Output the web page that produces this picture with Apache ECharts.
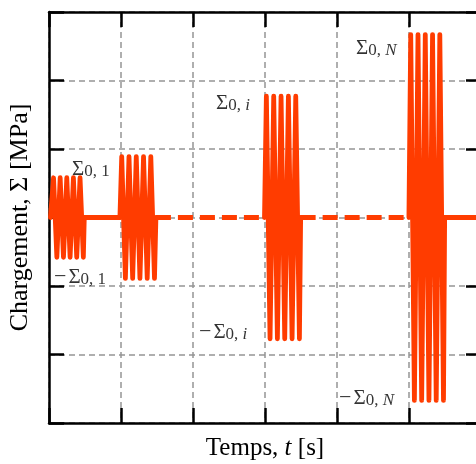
<!DOCTYPE html>
<html><head><meta charset="utf-8">
<script src="https://cdn.jsdelivr.net/npm/echarts@6/dist/echarts.min.js"></script>
<style>html,body{margin:0;padding:0;background:#fff}#c{width:476px;height:464px}</style>
</head><body><div id="c"></div>
<script>
// ---- data (time in s, load in axis units) ----
const xRange = [0, 6];
const yRange = [-3, 3];
const block1T = [0.02, 0.063, 0.109, 0.155, 0.201, 0.247, 0.293, 0.339, 0.385, 0.431, 0.477, 0.49];
const block1V = [0, 0.58, -0.58, 0.58, -0.58, 0.58, -0.58, 0.58, -0.58, 0.58, -0.58, 0];
const flat1T = [0.49, 0.985];
const flat1V = [0, 0];
const block2T = [0.985, 1.010, 1.061, 1.111, 1.162, 1.212, 1.263, 1.313, 1.364, 1.414, 1.465, 1.485];
const block2V = [0, 0.89, -0.89, 0.89, -0.89, 0.89, -0.89, 0.89, -0.89, 0.89, -0.89, 0];
const gap1T = [1.485, 2.993];
const gap1V = [0, 0];
const block3T = [2.993, 3.019, 3.070, 3.121, 3.172, 3.223, 3.274, 3.325, 3.376, 3.427, 3.478, 3.495];
const block3V = [0, 1.77, -1.77, 1.77, -1.77, 1.77, -1.77, 1.77, -1.77, 1.77, -1.77, 0];
const gap2T = [3.495, 4.999];
const gap2V = [0, 0];
const block4T = [4.999, 5.024, 5.075, 5.125, 5.176, 5.226, 5.277, 5.327, 5.378, 5.428, 5.479, 5.495];
const block4V = [0, 2.67, -2.67, 2.67, -2.67, 2.67, -2.67, 2.67, -2.67, 2.67, -2.67, 0];
const tailT = [5.495, 6];
const tailV = [0, 0];

// annotation texts and their anchor (top-left) in data coordinates
const annText = ['{s|Σ}{b|0, 1}', '{m|−}{s|Σ}{b|0, 1}',
                 '{s|Σ}{b|0, }{bi|i}', '{m|−}{s|Σ}{b|0, }{bi|i}',
                 '{s|Σ}{b|0, }{bi|N}', '{m|−}{s|Σ}{b|0, }{bi|N}'];
const annT = [0.319, 0.069, 2.319, 2.083, 4.264, 4.028];
const annV = [0.839, -0.737, 1.803, -1.540, 2.606, -2.504];

const xName = 'Temps, {i|t} [s]';
const yName = 'Chargement, Σ [MPa]';

const zip = (t, v) => t.map((x, k) => [x, v[k]]);

const RED = '#ff3c00';
const FONT = 'Liberation Serif';
const solid = {color: RED, width: 4.8, cap: 'round', join: 'round'};
const dashed = {color: RED, width: 4.8, type: [15, 7], cap: 'butt'};

function lineSeries(data, style) {
  return {type: 'line', data: data, symbol: 'none', lineStyle: style, z: 5,
          animation: false, silent: true, clip: true};
}

const axisCommon = {
  type: 'value', axisLabel: {show: false},
  axisLine: {onZero: false, lineStyle: {color: '#000', width: 2.5}},
  axisTick: {inside: true, length: 15, lineStyle: {color: '#000', width: 2.5}},
};
const gridLine = {show: true, lineStyle: {color: '#959595', width: 1.5, type: [6, 4]}};

const sub = {fontFamily: FONT, fontSize: 17, lineHeight: 17, padding: [4, 0, 0, 0], color: '#000'};
const rich = {
  m: {fontFamily: FONT, fontSize: 22, lineHeight: 19, color: '#000', padding: [0, 2, 0, 0]},
  s: {fontFamily: FONT, fontSize: 21, lineHeight: 19, color: '#000'},
  b: sub,
  bi: Object.assign({}, sub, {fontStyle: 'italic'})
};

const chart = echarts.init(document.getElementById('c'), null, {renderer: 'canvas'});

chart.setOption({
  animation: false,
  backgroundColor: '#fff',
  grid: {left: 49, right: -5, top: 12, bottom: 41, containLabel: false, outerBoundsMode: 'none'},
  xAxis: [
    Object.assign({}, axisCommon, {min: xRange[0], max: xRange[1], interval: 1, position: 'bottom',
      splitLine: gridLine,
      name: xName, nameLocation: 'middle', nameGap: 13,
      nameTextStyle: {fontFamily: FONT, fontSize: 25, color: '#000', verticalAlign: 'top',
        rich: {i: {fontFamily: FONT, fontSize: 25, fontStyle: 'italic', color: '#000'}}}}),
    Object.assign({}, axisCommon, {min: xRange[0], max: xRange[1], interval: 1, position: 'top',
      splitLine: {show: false}})
  ],
  yAxis: [
    Object.assign({}, axisCommon, {min: yRange[0], max: yRange[1], interval: 1, position: 'left',
      splitLine: gridLine,
      name: yName, nameLocation: 'middle', nameGap: 16, nameRotate: 90,
      nameTextStyle: {fontFamily: FONT, fontSize: 26, color: '#000'}}),
    Object.assign({}, axisCommon, {min: yRange[0], max: yRange[1], interval: 1, position: 'right',
      splitLine: {show: false}})
  ],
  series: [
    lineSeries(zip(block1T, block1V), solid),
    lineSeries(zip(flat1T, flat1V), solid),
    lineSeries(zip(block2T, block2V), solid),
    lineSeries(zip(gap1T, gap1V), dashed),
    lineSeries(zip(block3T, block3V), solid),
    lineSeries(zip(gap2T, gap2V), dashed),
    lineSeries(zip(block4T, block4V), solid),
    lineSeries(zip(tailT, tailV), solid),
    {
      type: 'scatter', symbolSize: 0, silent: true, z: 10, animation: false, clip: false,
      data: annT.map((t, k) => ({value: [t, annV[k]], label: {formatter: annText[k]}})),
      label: {show: true, position: [0, 0], align: 'left', verticalAlign: 'top',
              fontFamily: FONT, color: '#000', rich: rich}
    }
  ]
});
</script>
</body></html>
